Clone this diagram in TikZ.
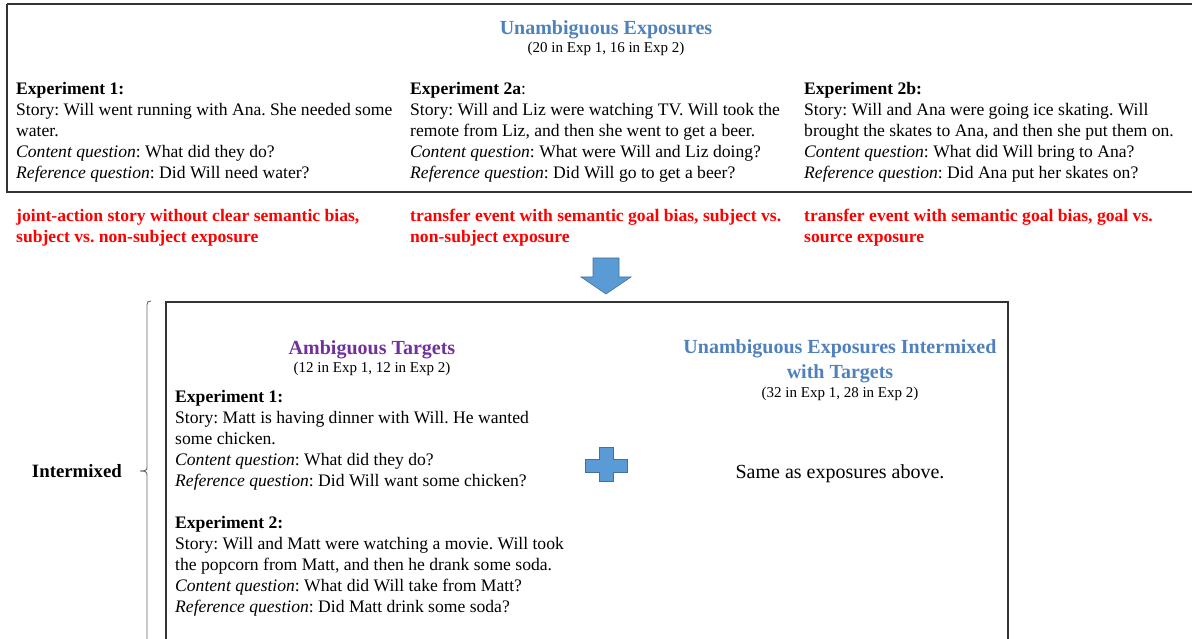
\documentclass[tikz,border=0pt]{standalone}
\usepackage{fontspec}
\setmainfont{Liberation Serif}
\frenchspacing
\definecolor{titleblue}{RGB}{79,129,189}
\definecolor{titlepurple}{RGB}{112,48,160}
\definecolor{shapefill}{RGB}{91,155,213}
\definecolor{shapeedge}{RGB}{65,113,156}
\definecolor{redtext}{RGB}{255,0,0}
\begin{document}
\begin{tikzpicture}[x=1pt,y=-1pt,
  body/.style={anchor=north west,inner sep=0pt,font=\fontsize{17.6}{21}\selectfont,align=left},
  redlbl/.style={anchor=north west,inner sep=0pt,font=\fontsize{17.6}{21}\selectfont\bfseries,text=redtext,align=left},
  ttl/.style={anchor=base,inner sep=0pt,font=\fontsize{20}{25}\selectfont\bfseries},
  ttltwo/.style={anchor=north,inner sep=0pt,font=\fontsize{20}{25}\selectfont\bfseries,align=center},
  sub/.style={anchor=base,inner sep=0pt,font=\fontsize{15}{18}\selectfont},
  frame/.style={draw=black!80,line width=1.2pt},
  blueshape/.style={fill=shapefill,draw=shapeedge,line width=0.6pt}]
\useasboundingbox (0,0) rectangle (1192,639);
% top box
\draw[frame] (7,4) -- (1195,4) (7,4) -- (7,192) -- (1195,192);
\node[ttl,text=titleblue] (t1) at (606,35) {Unambiguous Exposures};
\node[sub] (s1) at (606,53) {(20 in Exp 1, 16 in Exp 2)};
\node[body] (e1) at (16,82) {\textbf{Experiment 1:}\\Story: Will went running with Ana. She needed some\\water.\\\textit{Content question}: What did they do?\\\textit{Reference question}: Did Will need water?};
\node[body] (e2a) at (410,82) {\textbf{Experiment 2a}:\\Story: Will and Liz were watching TV. Will took the\\remote from Liz, and then she went to get a beer.\\\textit{Content question}: What were Will and Liz doing?\\\textit{Reference question}: Did Will go to get a beer?};
\node[body] (e2b) at (804,82) {\textbf{Experiment 2b:}\\Story: Will and Ana were going ice skating. Will\\brought the skates to Ana, and then she put them on.\\\textit{Content question}: What did Will bring to Ana?\\\textit{Reference question}: Did Ana put her skates on?};
\node[redlbl] (r1) at (16,209) {joint-action story without clear semantic bias,\\subject vs. non-subject exposure};
\node[redlbl] (r2) at (410,209) {transfer event with semantic goal bias, subject vs.\\non-subject exposure};
\node[redlbl] (r3) at (804,209) {transfer event with semantic goal bias, goal vs.\\source exposure};
% down arrow
\draw[blueshape] (593,258) -- (619,258) -- (619,277) -- (631,277) -- (606,294) -- (581,277) -- (593,277) -- cycle;
% bottom box
\draw[frame] (166,645) -- (166,302) -- (1008,302) -- (1008,645);
% brace
\draw[black!60,line width=0.9pt] (151,301) .. controls (148,301) and (147,302) .. (147,305) -- (147,467) .. controls (147,470) and (146,471) .. (140,471)
  (140,471) .. controls (146,471) and (147,472) .. (147,475) -- (147,645);
\node[anchor=base east,inner sep=0pt,font=\fontsize{18.8}{21}\selectfont\bfseries] (im) at (122,477) {Intermixed};
\node[ttl,text=titlepurple] (t2) at (372,354) {Ambiguous Targets};
\node[sub] (s2) at (372,372) {(12 in Exp 1, 12 in Exp 2)};
\node[body] (x1) at (175,390) {\textbf{Experiment 1:}\\Story: Matt is having dinner with Will. He wanted\\some chicken.\\\textit{Content question}: What did they do?\\\textit{Reference question}: Did Will want some chicken?};
\node[body] (x2) at (175,516) {\textbf{Experiment 2:}\\Story: Will and Matt were watching a movie. Will took\\the popcorn from Matt, and then he drank some soda.\\\textit{Content question}: What did Will take from Matt?\\\textit{Reference question}: Did Matt drink some soda?};
% plus
\draw[blueshape] (599,447) -- (613,447) -- (613,459) -- (627,459) -- (627,472) -- (613,472) -- (613,481) -- (599,481) -- (599,472) -- (585,472) -- (585,459) -- (599,459) -- cycle;
\node[ttltwo,text=titleblue] (t3) at (840,339) {Unambiguous Exposures Intermixed\\with Targets};
\node[sub] (s3) at (840,397) {(32 in Exp 1, 28 in Exp 2)};
\node[anchor=base,inner sep=0pt,font=\fontsize{20}{24}\selectfont] (same) at (840,478) {Same as exposures above.};
\end{tikzpicture}
\end{document}
